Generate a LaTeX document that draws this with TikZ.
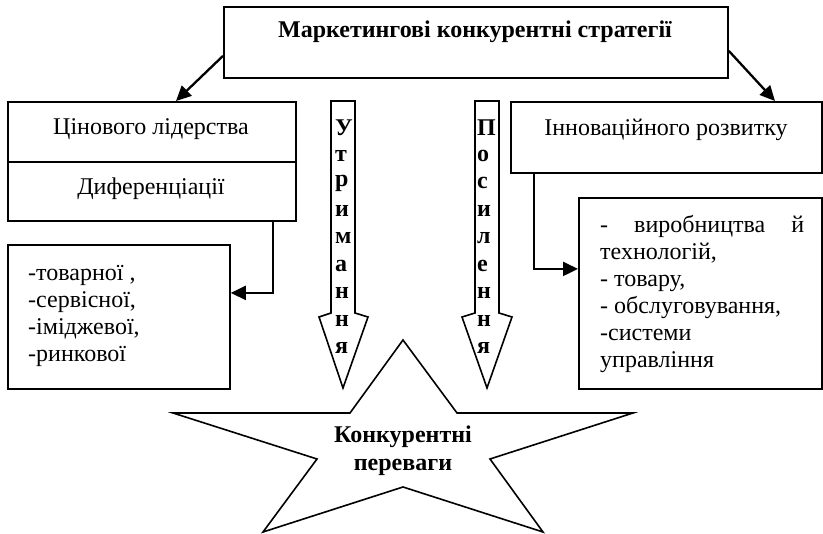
\documentclass[tikz,border=0pt]{standalone}
\usepackage{fontspec}
\setmainfont{Liberation Serif}
\usetikzlibrary{arrows.meta,calc}
\tikzset{
  box/.style={draw, line width=1.8pt, inner sep=0pt, anchor=north west},
  conn/.style={line width=2.3pt, -{Triangle[length=15pt,width=14pt]}},
  txt/.style={inner sep=0pt, font=\fontsize{24}{27}\selectfont},
  btxt/.style={inner sep=0pt, font=\fontsize{24}{27}\selectfont\bfseries},
  letter/.style={inner sep=0pt, anchor=west, font=\fontsize{24}{27}\selectfont\bfseries},
  hollow/.style={draw, line width=1.6pt, fill=white, line join=miter},
}
\begin{document}
\begin{tikzpicture}[x=1pt,y=-1pt]
\useasboundingbox (0,0) rectangle (823,534);

% boxes
\node[box, minimum width=504pt, minimum height=71pt] (top) at (223,6) {};
\node[box, minimum width=288pt, minimum height=60pt] (lb1) at (7,101) {};
\node[box, minimum width=288pt, minimum height=59pt] (lb2) at (7,161) {};
\node[box, minimum width=311pt, minimum height=71pt] (rb) at (510,101) {};
\node[box, minimum width=222pt, minimum height=144pt] (ll) at (7,244) {};
\node[box, minimum width=243pt, minimum height=191pt] (rl) at (578,197) {};

% box texts
\node[btxt] (ttl) at (475,32) {Маркетингові конкурентні стратегії};
\node[txt] (t1) at (151,129) {Цінового лідерства};
\node[txt] (t2) at (151,189) {Диференціації};
\node[txt] (t3) at (666,130) {Інноваційного розвитку};

\node[txt, anchor=base west] (l1) at (28,281) {-товарної ,};
\node[txt, anchor=base west] (l2) at (28,308) {-сервісної,};
\node[txt, anchor=base west] (l3) at (28,335) {-іміджевої,};
\node[txt, anchor=base west] (l4) at (28,362) {-ринкової};

\node[txt, anchor=base west] (r1) at (600,233) {\makebox[204pt][s]{-\hfill виробництва\hfill й}};
\node[txt, anchor=base west] (r2) at (600,260) {технологій,};
\node[txt, anchor=base west] (r3) at (600,287) {- товару,};
\node[txt, anchor=base west] (r4) at (600,314) {- обслуговування,};
\node[txt, anchor=base west] (r5) at (600,341) {-системи};
\node[txt, anchor=base west] (r6) at (600,368) {управління};

% connectors
\draw[conn] ([yshift=-13.5pt]top.west) -- ([xshift=169pt]lb1.north west);
\draw[conn] ([yshift=-8.5pt]top.east) -- ([xshift=265pt]rb.north west);
\draw[conn] ([xshift=266pt]lb2.south west) |- ([yshift=24pt]ll.east);
\draw[conn] ([xshift=24pt]rb.south west) |- ([yshift=24.5pt]rl.west);

% hollow block arrows
\draw[hollow] (331,101) -- (355,101) -- (355,313) -- (368,317) -- (343,388)
  -- (319,317) -- (331,313) -- cycle;
\draw[hollow] (475,101) -- (499,101) -- (499,313) -- (512,317) -- (487,388)
  -- (462,317) -- (475,313) -- cycle;
\foreach \c [count=\i from 0] in {У,т,р,и,м,а,н,н,я}
  \node[letter] (u\i) at (335,128+27.5*\i) {\c};
\foreach \c [count=\i from 0] in {П,о,с,и,л,е,н,н,я}
  \node[letter] (p\i) at (477,128+27.5*\i) {\c};

% star
\draw[line width=1.6pt, line join=miter]
  (403,340) -- (457,413) -- (633,413) -- (490,459) -- (543,532) -- (403,487)
  -- (263,532) -- (317,459) -- (173,413) -- (350,413) -- cycle;
\node[inner sep=0pt, align=center, font=\fontsize{24}{28}\selectfont\bfseries]
  (adv) at (403,451) {Конкурентні\\переваги};
\end{tikzpicture}
\end{document}
